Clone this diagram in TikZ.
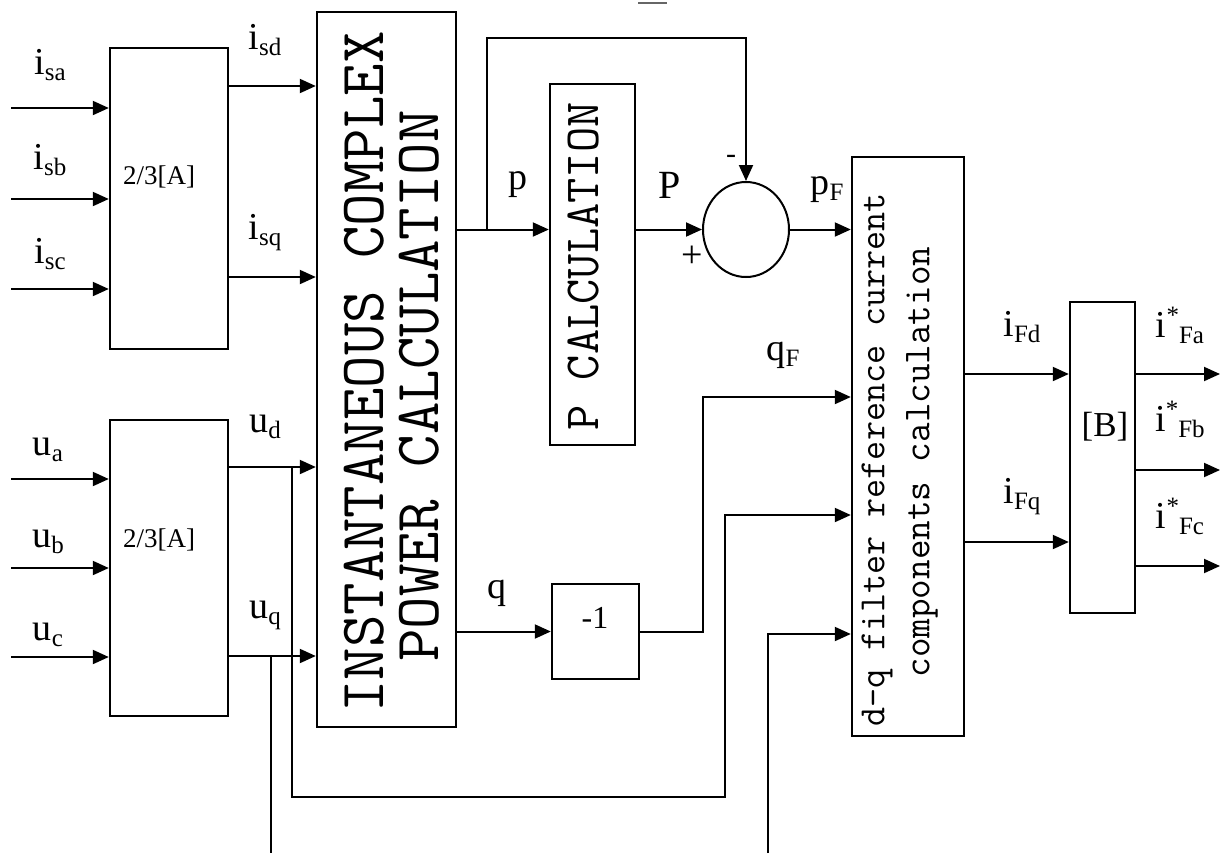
\documentclass[tikz,border=0pt]{standalone}
\usepackage{fontspec}
\setmainfont{Liberation Serif}
\usetikzlibrary{arrows.meta,shapes.geometric}
\newcommand{\MyLbl}[2]{{\fontsize{19}{19}\selectfont #1}\raisebox{-3pt}{\fontsize{12.5}{12.5}\selectfont #2}}
\newcommand{\MyStar}[1]{{\fontsize{19}{19}\selectfont i}\raisebox{7pt}{\fontsize{12.5}{12.5}\selectfont *}\raisebox{-3pt}{\fontsize{12.5}{12.5}\selectfont #1}}
\begin{document}
\begin{tikzpicture}[x=0.5pt,y=-0.5pt, line width=1pt,
  blk/.style={draw, line width=1.2pt, inner sep=0pt, fill=white},
  sig/.style={-{Triangle[length=8pt,width=7pt]}},
  lab/.style={inner sep=0pt, font=\fontsize{19}{19}\selectfont}]
\useasboundingbox (0,0) rectangle (1221,853);

% blocks
\node[blk, minimum width=59pt, minimum height=150.5pt] (A1) at (169,198.5) {};
\node[lab] (A1t) at (159,177) {\fontsize{13.5}{14}\selectfont 2/3[A]};
\node[blk, minimum width=59pt, minimum height=148pt] (A2) at (169,568) {};
\node[lab] (A2t) at (159,540) {\fontsize{13.5}{14}\selectfont 2/3[A]};
\node[blk, minimum width=69.5pt, minimum height=357.5pt] (B1) at (386.5,369.5) {};
\node[lab, rotate=90] (B1a) at (364,372) {\ttfamily\fontsize{31.5}{32}\selectfont INSTANTANEOUS COMPLEX};
\node[lab, rotate=90] (B1b) at (419,386) {\ttfamily\fontsize{31.5}{32}\selectfont POWER CALCULATION};
\node[blk, minimum width=42.5pt, minimum height=180.5pt] (B2) at (592.5,264.5) {};
\node[lab, rotate=90] (B2t) at (583,266.5) {\ttfamily\fontsize{24.5}{25}\selectfont P CALCULATION};
\node[draw, ellipse, line width=1pt, minimum width=43pt, minimum height=47.5pt, inner sep=0pt] (S) at (746,229.5) {};
\node[blk, minimum width=56pt, minimum height=289.5pt] (B3) at (908,446.5) {};
\node[lab, rotate=90] (B3a) at (877,460) {\ttfamily\fontsize{18.5}{19}\selectfont d-q filter reference current};
\node[lab, rotate=90] (B3b) at (922,462) {\ttfamily\fontsize{19}{19}\selectfont components calculation};
\node[blk, minimum width=32.5pt, minimum height=155.5pt] (B4) at (1102.5,457.5) {};
\node[lab] (B4t) at (1105,427) {\fontsize{17.5}{18}\selectfont [B]};
\node[blk, minimum width=43.5pt, minimum height=47.5pt] (M1) at (595.5,631.5) {};
\node[lab] (M1t) at (595,618) {\fontsize{16}{16}\selectfont -1};

% inputs
\coordinate (isa) at (11,108);
\coordinate (isb) at (11,199);
\coordinate (isc) at (11,289);
\coordinate (ua) at (11,479);
\coordinate (ub) at (11,568);
\coordinate (uc) at (11,657);
\foreach \c in {isa,isb,isc} \draw[sig] (\c) -- (A1.west |- \c);
\foreach \c in {ua,ub,uc} \draw[sig] (\c) -- (A2.west |- \c);

% A1 -> B1
\draw[sig] (A1.east |- 0,86) -- (B1.west |- 0,86);
\draw[sig] (A1.east |- 0,277) -- (B1.west |- 0,277);
% A2 -> B1
\draw[sig] (A2.east |- 0,467) -- (B1.west |- 0,467);
\draw[sig] (A2.east |- 0,656) -- (B1.west |- 0,656);
\coordinate (udb) at (292,467);
\draw[sig] (udb) |- (725,797) |- (B3.west |- 0,515);
\coordinate (uqb) at (271,656);
\coordinate (uqe) at (271,853);
\draw (uqb) -- (uqe);
\coordinate (xin) at (768,853);
\draw[sig] (xin) |- (B3.west |- 0,634);

% p path
\draw[sig] (B1.east |- S.west) -- (B2.west |- S.west);
\coordinate (pb) at (487,229.5);
\draw[sig] (pb) -- (487,38) -| (S.north);
\draw[sig] (B2.east |- S.west) -- (S.west);
\draw[sig] (S.east) -- (B3.west |- S.east);

% q path
\draw[sig] (B1.east |- M1.west) -- (M1.west);
\draw[sig] (M1.east) -- (703,631.5) |- (B3.west |- 0,397);

% outputs
\draw[sig] (B3.east |- 0,374) -- (B4.west |- 0,374);
\draw[sig] (B3.east |- 0,542) -- (B4.west |- 0,542);
\coordinate (oa) at (1220,374);
\coordinate (ob) at (1220,470);
\coordinate (oc) at (1220,566);
\foreach \c in {oa,ob,oc} \draw[sig] (B4.east |- \c) -- (\c);

% stray mark
\coordinate (s1) at (638,3);
\coordinate (s2) at (667,3);
\draw[line width=0.8pt, black!60] (s1) -- (s2);

% labels
\node[lab] (Lisa) at (50,65) {\MyLbl{i}{sa}};
\node[lab] (Lisb) at (50,160) {\MyLbl{i}{sb}};
\node[lab] (Lisc) at (50,254) {\MyLbl{i}{sc}};
\node[lab] (Lisd) at (265,40) {\MyLbl{i}{sd}};
\node[lab] (Lisq) at (265,233) {\MyLbl{i}{sq}};
\node[lab] (Lua) at (48,450) {\MyLbl{u}{a}};
\node[lab] (Lub) at (48,542) {\MyLbl{u}{b}};
\node[lab] (Luc) at (48,635) {\MyLbl{u}{c}};
\node[lab] (Lud) at (265,427) {\MyLbl{u}{d}};
\node[lab] (Luq) at (265,615) {\MyLbl{u}{q}};
\node[lab] (Lp) at (518,185) {p};
\node[lab] (LP) at (670,185) {\fontsize{20}{20}\selectfont P};
\node[lab] (Lminus) at (731,159) {\fontsize{15}{15}\selectfont -};
\node[lab] (Lplus) at (692,257) {+};
\node[lab] (LpF) at (827,190) {\MyLbl{p}{F}};
\node[lab] (Lq) at (497,593) {q};
\node[lab] (LqF) at (783,355) {\MyLbl{q}{F}};
\node[lab] (LiFd) at (1022,327) {\MyLbl{i}{Fd}};
\node[lab] (LiFq) at (1022,497) {\MyLbl{i}{Fq}};
\node[lab] (LiFa) at (1180,325) {\MyStar{Fa}};
\node[lab] (LiFb) at (1180,419) {\MyStar{Fb}};
\node[lab] (LiFc) at (1180,516) {\MyStar{Fc}};
\end{tikzpicture}
\end{document}
